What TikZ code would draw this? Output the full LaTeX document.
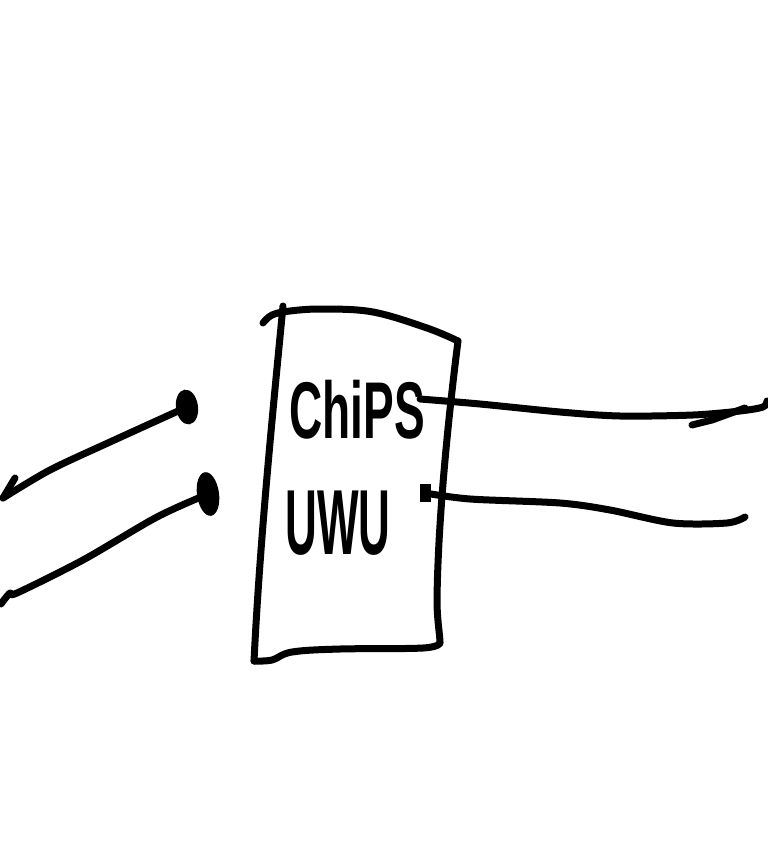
\documentclass[tikz,border=0pt]{standalone}
\usepackage{fontspec}
\setmainfont{Liberation Sans}
\usetikzlibrary{shapes.geometric}
\begin{document}
\begin{tikzpicture}[x=1pt,y=-1pt,
  ink/.style={line width=7pt,line cap=round,line join=round,black},
  blob/.style={ellipse,fill=black,inner sep=0pt,minimum width=#1},
  label/.style={inner sep=0pt,transform shape,font=\bfseries}]
\useasboundingbox (0,0) rectangle (768,860);
% chip outline
\draw[ink] plot[smooth,tension=0.6] coordinates {(263,323) (272,315) (290,311) (323,309) (373,312) (427,328) (458,341)};
\draw[ink] (458,341) .. controls (448,420) and (438,520) .. (437,600) .. controls (437,620) and (440,635) .. (440,643);
\draw[ink] plot[smooth,tension=0.6] coordinates {(440,643) (423,648) (340,649) (292,652) (272,660) (254,661)};
\draw[ink] (283,306) .. controls (272,420) and (260,540) .. (254,661);
% texts
\node[label,yscale=1.75] (t1) at (357,410) {\fontsize{46}{50}\selectfont ChiPS};
\node[label,yscale=2.1] (t2) at (338,523) {\fontsize{44}{48}\selectfont UWU};
% dots
\node[blob=22pt,minimum height=35pt,rotate=8] (d1) at (187,407) {};
\node[blob=22pt,minimum height=44pt,rotate=8] (d2) at (208,494) {};
\node[fill=black,inner sep=0pt,minimum width=11pt,minimum height=18pt] (dr) at (425,493) {};
% free ends
\coordinate (s1) at (420,399);
\coordinate (r1) at (767,401);
\coordinate (r2) at (745,517);
\coordinate (l1) at (3,498);
\coordinate (l2) at (1,604);
% right connectors
\draw[ink] plot[smooth,tension=0.5] coordinates {(s1) (480,404) (560,412) (620,416) (693,415) (740,411) (763,407) (r1)};
\draw[ink] (692,425) -- (712,420) -- (745,408);
\draw[ink] plot[smooth,tension=0.5] coordinates {(dr.center) (470,499) (560,503) (610,510) (673,523) (727,523) (r2)};
% left connectors
\draw[ink] plot[smooth,tension=0.5] coordinates {(d1.center) (110,442) (50,470) (l1)};
\draw[ink] (15,478) -- (l1);
\draw[ink] plot[smooth,tension=0.5] coordinates {(d2.center) (157,517) (83,560) (17,593) (10,593) (l2)};
\end{tikzpicture}
\end{document}
